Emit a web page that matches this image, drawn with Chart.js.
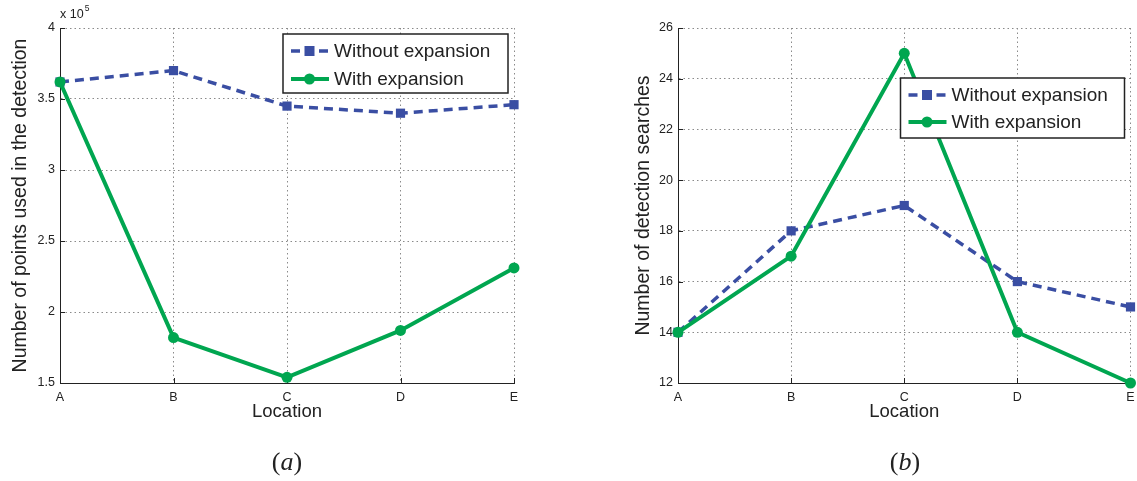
<!DOCTYPE html>
<html>
<head>
<meta charset="utf-8">
<script src="https://cdn.jsdelivr.net/npm/chart.js@4.4.0/dist/chart.umd.min.js"></script>
<style>
  html, body { margin: 0; padding: 0; background: #fff; }
  body { width: 1137px; height: 481px; position: relative; overflow: hidden; }
  canvas { position: absolute; top: 0; }
  #chartA { left: 0; }
  #chartB { left: 620px; }
  .caption {
    position: absolute; top: 446px;
    font-family: "Liberation Serif", "Times New Roman", serif;
    font-size: 26px; line-height: 32px; color: #222;
    transform: translateX(-50%); white-space: nowrap;
  }
</style>
</head>
<body>
<canvas id="chartA" width="560" height="481"></canvas>
<canvas id="chartB" width="517" height="481"></canvas>
<div class="caption" style="left:287px">(<i>a</i>)</div>
<div class="caption" style="left:905px">(<i>b</i>)</div>
<script>
const locations = ["A", "B", "C", "D", "E"];
const seriesNames = ["Without expansion", "With expansion"];

// (a) points used in the detection
const pointsWithout = [362000, 370000, 345000, 340000, 346000];
const pointsWith = [362000, 182000, 154000, 187000, 231000];

// (b) detection searches
const searchesWithout = [14, 18, 19, 16, 15];
const searchesWith = [14, 17, 25, 14, 12];

const BLUE = "#3a4ea3";
const GREEN = "#00a650";
const INK = "#222";
const FONT = "'Liberation Sans', Arial, sans-serif";

function makeDatasets(without, withExp) {
  return [
    {
      label: seriesNames[0], data: without,
      borderColor: BLUE, backgroundColor: BLUE, borderWidth: 3.5, borderDash: [9, 6],
      pointStyle: "rect", pointRadius: 6.5, pointBorderWidth: 0,
      tension: 0, clip: false, order: 1
    },
    {
      label: seriesNames[1], data: withExp,
      borderColor: GREEN, backgroundColor: GREEN, borderWidth: 4,
      pointStyle: "circle", pointRadius: 5.5, pointBorderWidth: 0,
      tension: 0, clip: false, order: 0
    }
  ];
}

// boxed legend drawn inside the plot, matlab style
const boxLegend = {
  id: "boxLegend",
  afterDatasetsDraw(chart, args, opts) {
    const ctx = chart.ctx, area = chart.chartArea;
    const x = area.right - opts.right - opts.width;
    const y = area.top + opts.top;
    ctx.save();
    ctx.fillStyle = "#fff";
    ctx.fillRect(x, y, opts.width, opts.height);
    ctx.strokeStyle = INK;
    ctx.lineWidth = 1.5;
    ctx.strokeRect(x, y, opts.width, opts.height);

    ctx.font = "19px " + FONT;
    ctx.textBaseline = "middle";
    ctx.fillStyle = INK;

    // row 1: dashed blue with square
    let ry = y + 17;
    ctx.strokeStyle = BLUE;
    ctx.lineWidth = 3.5;
    ctx.beginPath();
    ctx.moveTo(x + 8, ry); ctx.lineTo(x + 17, ry);
    ctx.moveTo(x + 36, ry); ctx.lineTo(x + 45, ry);
    ctx.stroke();
    ctx.fillStyle = BLUE;
    ctx.fillRect(x + 21.5, ry - 5, 10, 10);
    ctx.fillStyle = INK;
    ctx.fillText(seriesNames[0], x + 51, ry + 1);

    // row 2: solid green with circle
    ry = y + opts.rowGap + 17;
    ctx.strokeStyle = GREEN;
    ctx.lineWidth = 4;
    ctx.beginPath();
    ctx.moveTo(x + 8, ry); ctx.lineTo(x + 46, ry);
    ctx.stroke();
    ctx.fillStyle = GREEN;
    ctx.beginPath();
    ctx.arc(x + 26.5, ry, 5.5, 0, Math.PI * 2);
    ctx.fill();
    ctx.fillStyle = INK;
    ctx.fillText(seriesNames[1], x + 51, ry + 1);
    ctx.restore();
  }
};

// inward tick marks and the exponent label
const axisExtras = {
  id: "axisExtras",
  beforeDatasetsDraw(chart, args, opts) {
    const ctx = chart.ctx, area = chart.chartArea;
    const xs = chart.scales.x, ys = chart.scales.y;
    ctx.save();
    ctx.strokeStyle = INK;
    ctx.lineWidth = 1;
    ctx.beginPath();
    xs.ticks.forEach((t, i) => {
      const px = Math.round(xs.getPixelForTick(i)) + 0.5;
      ctx.moveTo(px, area.bottom); ctx.lineTo(px, area.bottom - 5);
    });
    ys.ticks.forEach((t, i) => {
      const py = Math.round(ys.getPixelForTick(i)) + 0.5;
      ctx.moveTo(area.left, py); ctx.lineTo(area.left + 5, py);
    });
    ctx.stroke();
    ctx.restore();
  },
  afterDraw(chart, args, opts) {
    if (!opts.exponent) return;
    const ctx = chart.ctx, area = chart.chartArea;
    ctx.save();
    ctx.fillStyle = INK;
    ctx.textBaseline = "middle";
    ctx.font = "12.5px " + FONT;
    ctx.fillText("x 10", area.left, area.top - 13);
    const w = ctx.measureText("x 10").width;
    ctx.font = "8.5px " + FONT;
    ctx.fillText(opts.exponent, area.left + w + 1, area.top - 19);
    ctx.restore();
  }
};

function makeScales(yRange, yFormat, yTitle, yWidth, yTitlePad) {
  return {
    x: {
      type: "category",
      offset: false,
      grid: { color: "#8a8a8a", lineWidth: 1, drawTicks: false },
      border: { color: INK, width: 1, dash: [1.5, 3] },
      ticks: { color: INK, font: { family: FONT, size: 12.5 }, padding: 7, maxRotation: 0, autoSkip: false },
      title: { display: true, text: "Location", color: INK, font: { family: FONT, size: 18.5 }, padding: { top: 0, bottom: 58 } },
      afterFit(s) { s.height = 98; s.paddingLeft = 0; s.paddingRight = 0; }
    },
    y: {
      min: yRange[0], max: yRange[1],
      grid: { color: "#8a8a8a", lineWidth: 1, drawTicks: false },
      border: { color: INK, width: 1, dash: [1.5, 3] },
      ticks: { color: INK, font: { family: FONT, size: 12.5 }, padding: 5, stepSize: yRange[2], callback: yFormat },
      title: { display: true, text: yTitle, color: INK, font: { family: FONT, size: 19.5 }, padding: { top: yTitlePad, bottom: 0 } },
      afterFit(s) { s.width = yWidth; s.paddingTop = 0; s.paddingBottom = 0; }
    }
  };
}

const baseOptions = {
  responsive: false,
  animation: false,
  events: [],
};

new Chart(document.getElementById("chartA"), {
  type: "line",
  data: { labels: locations, datasets: makeDatasets(pointsWithout, pointsWith) },
  options: Object.assign({}, baseOptions, {
    layout: { padding: { left: 0, top: 28, right: 46, bottom: 0 } },
    scales: makeScales([150000, 400000, 50000], v => String(v / 100000),
      "Number of points used in the detection", 60, 9),
    plugins: {
      legend: { display: false },
      tooltip: { enabled: false },
      boxLegend: { right: 6, top: 6, width: 225, height: 59, rowGap: 28 },
      axisExtras: { exponent: "5" }
    }
  }),
  plugins: [boxLegend, axisExtras]
});

new Chart(document.getElementById("chartB"), {
  type: "line",
  data: { labels: locations, datasets: makeDatasets(searchesWithout, searchesWith) },
  options: Object.assign({}, baseOptions, {
    layout: { padding: { left: 0, top: 28, right: 5, bottom: 0 } },
    scales: makeScales([12, 26, 2], v => String(v),
      "Number of detection searches", 58, 12),
    plugins: {
      legend: { display: false },
      tooltip: { enabled: false },
      boxLegend: { right: 6, top: 50, width: 224, height: 60, rowGap: 27 },
      axisExtras: { exponent: "" }
    }
  }),
  plugins: [boxLegend, axisExtras]
});
</script>
</body>
</html>
